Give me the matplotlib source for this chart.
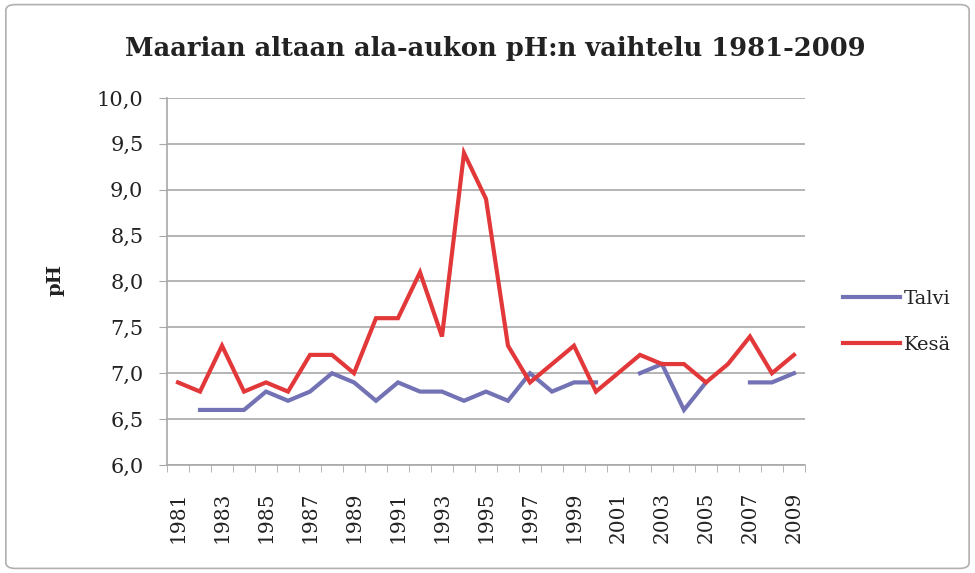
import numpy as np
import matplotlib
matplotlib.use("Agg")
import matplotlib.pyplot as plt
from matplotlib.patches import FancyBboxPatch

years = list(range(1981, 2010))
talvi = [np.nan, 6.6, 6.6, 6.6, 6.8, 6.7, 6.8, 7.0, 6.9, 6.7,
         6.9, 6.8, 6.8, 6.7, 6.8, 6.7, 7.0, 6.8, 6.9, 6.9,
         np.nan, 7.0, 7.1, 6.6, 6.9, np.nan, 6.9, 6.9, 7.0]
kesa = [6.9, 6.8, 7.3, 6.8, 6.9, 6.8, 7.2, 7.2, 7.0, 7.6,
        7.6, 8.1, 7.4, 9.4, 8.9, 7.3, 6.9, 7.1, 7.3, 6.8,
        7.0, 7.2, 7.1, 7.1, 6.9, 7.1, 7.4, 7.0, 7.2]
yticks = [6.0, 6.5, 7.0, 7.5, 8.0, 8.5, 9.0, 9.5, 10.0]

serif = "DejaVu Serif"
txtcol = "#222222"
fig = plt.figure(figsize=(9.75, 5.73), dpi=100)
border = FancyBboxPatch((0.006, 0.008), 0.988, 0.984, boxstyle="round,pad=0,rounding_size=0.01",
                        transform=fig.transFigure, facecolor="none", edgecolor="#b0b0b0", lw=1.2,
                        zorder=-1)
fig.patches.append(border)

ax = fig.add_axes([0.1713, 0.1885, 0.6543, 0.6405])
x = np.arange(len(years))
ax.plot(x, talvi, color="#7272B4", lw=3, label="Talvi", solid_joinstyle="miter")
ax.plot(x, kesa, color="#E2383A", lw=3, label="Kesä", solid_joinstyle="miter")

ax.set_xlim(-0.5, len(years) - 0.5)
ax.set_ylim(6.0, 10.0)
ax.set_yticks(yticks)
ax.set_yticklabels([f"{v:.1f}".replace(".", ",") for v in yticks], fontfamily=serif,
                   fontsize=15, color=txtcol)
ax.grid(axis="y", color="#a8a8a8", lw=1.2)
ax.set_axisbelow(True)

ax.set_xticks(x[::2])
ax.set_xticklabels([str(y) for y in years[::2]], rotation=90, fontfamily=serif,
                   fontsize=14.5, color=txtcol)
ax.set_xticks(np.arange(-0.5, len(years), 1.0), minor=True)
ax.tick_params(axis="x", which="major", length=0, pad=19)
ax.tick_params(axis="x", which="minor", length=5, color="#a8a8a8")
ax.tick_params(axis="y", length=6, color="#a8a8a8", pad=11)

for s in ["top", "right"]:
    ax.spines[s].set_visible(False)
for s in ["left", "bottom"]:
    ax.spines[s].set_color("#a8a8a8")
    ax.spines[s].set_linewidth(1.2)

ax.set_ylabel("pH", fontfamily=serif, fontweight="bold", fontsize=14, color=txtcol)
ax.yaxis.set_label_coords(-0.16, 0.504)
fig.text(0.508, 0.915, "Maarian altaan ala-aukon pH:n vaihtelu 1981-2009", ha="center", va="center",
         fontfamily=serif, fontweight="bold", fontsize=18.5, color=txtcol)

leg = ax.legend(loc="center left", bbox_to_anchor=(1.06, 0.39), frameon=False,
                borderaxespad=0, borderpad=0,
                prop={"family": serif, "size": 14}, handlelength=2.9, handletextpad=0.2,
                labelspacing=1.45)
for t in leg.get_texts():
    t.set_color(txtcol)

fig.savefig("out.png", dpi=100)
